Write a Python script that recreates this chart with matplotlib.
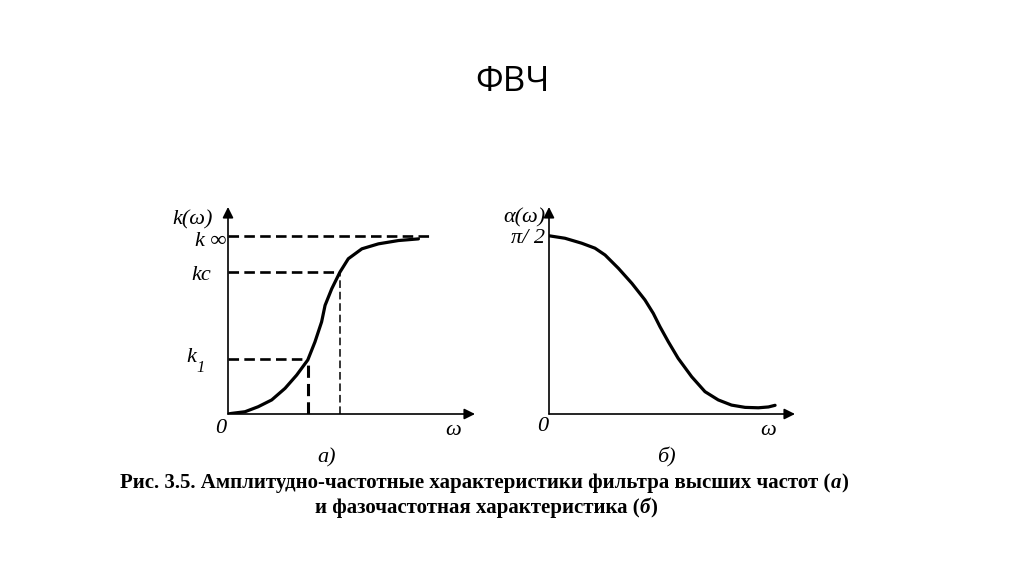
import matplotlib
matplotlib.use("Agg")
import matplotlib.pyplot as plt
from matplotlib.offsetbox import TextArea, HPacker, AnnotationBbox

# амплитудно-частотная характеристика k(w)
w_amp = [0.0, 0.15, 0.69, 1.22, 1.77, 2.31, 2.78, 3.23, 3.52, 3.79, 3.93, 4.20,
         4.53, 4.87, 5.42, 6.09, 6.90, 7.71]
k_amp = [0.0, 0.03, 0.11, 0.35, 0.68, 1.24, 1.88, 2.61, 3.48, 4.45, 5.25, 6.05,
         6.85, 7.50, 7.98, 8.22, 8.38, 8.46]

# фазочастотная характеристика alpha(w)
w_phase = [0.0, 0.65, 1.33, 1.87, 2.28, 2.82, 3.37, 3.90, 4.24, 4.51, 4.85, 5.25,
           5.80, 6.34, 6.88, 7.42, 7.97, 8.51, 8.92, 9.19]
a_phase = [8.61, 8.49, 8.25, 8.01, 7.68, 7.04, 6.31, 5.51, 4.86, 4.22, 3.49, 2.69,
           1.80, 1.08, 0.68, 0.43, 0.32, 0.30, 0.34, 0.42]

# уровни k и частоты для пунктиров
k_inf, k_c, k_1 = 8.61, 6.87, 2.64
w_1, w_c = 3.25, 4.53
w_inf_end = 8.25

title = 'ФВЧ'
caption1 = 'Рис. 3.5. Амплитудно-частотные характеристики фильтра высших частот'
caption2 = 'и фазочастотная характеристика'

serif = ['Liberation Serif', 'DejaVu Serif']
lab = dict(family=serif, style='italic', fontsize=16)

fig = plt.figure(figsize=(10.24, 5.74), dpi=100)
fig.patch.set_facecolor('white')

W, H = 1024.0, 574.0
ax1 = fig.add_axes([228 / W, (H - 414) / H, 247 / W, 207 / H])
ax2 = fig.add_axes([549 / W, (H - 414) / H, 246 / W, 207 / H])

for ax in (ax1, ax2):
    ax.set_xlim(0, 10)
    ax.set_ylim(0, 10)
    ax.axis('off')
    arrow = dict(arrowstyle='-|>', lw=1.2, color='black', mutation_scale=16,
                 shrinkA=0, shrinkB=0)
    ax.annotate('', xy=(10, 0), xytext=(0, 0), arrowprops=arrow, annotation_clip=False)
    ax.annotate('', xy=(0, 10), xytext=(0, 0), arrowprops=arrow, annotation_clip=False)

# а) АЧХ
ax1.plot(w_amp, k_amp, color='black', lw=2.3, solid_capstyle='round',
         solid_joinstyle='round')
ax1.plot([0, w_inf_end], [k_inf, k_inf], color='black', lw=1.9, dashes=(4, 2))
ax1.plot([0, w_c], [k_c, k_c], color='black', lw=1.9, dashes=(4, 2))
ax1.plot([0, w_1], [k_1, k_1], color='black', lw=1.9, dashes=(4, 2))
ax1.plot([w_c, w_c], [0, k_c], color='black', lw=1.1, dashes=(5, 2.5))
ax1.plot([w_1, w_1], [0, k_1], color='black', lw=2.2, dashes=(4, 2))

ax1.text(-0.6, 9.37, 'k(ω)', ha='right', va='center', **lab)
ax1.text(-0.05, 8.32, 'k ∞', ha='right', va='center', **lab)
ax1.text(-0.7, 6.71, 'kc', ha='right', va='center', **lab)
ax1.text(-1.3, 2.75, 'k', ha='right', va='center', **lab)
ax1.text(-1.28, 2.2, '1', ha='left', va='center', family=serif, style='italic',
         fontsize=12)
ax1.text(-0.3, -0.68, '0', ha='center', va='center', **lab)
ax1.text(9.1, -0.8, 'ω', ha='center', va='center', **lab)
ax1.text(4.0, -2.1, 'а)', ha='center', va='center', **lab)

# б) ФЧХ
ax2.plot(w_phase, a_phase, color='black', lw=2.3, solid_capstyle='round',
         solid_joinstyle='round')
ax2.text(-0.15, 9.47, 'α(ω)', ha='right', va='center', **lab)
ax2.text(-0.15, 8.5, 'π/ 2', ha='right', va='center', **lab)
ax2.text(-0.25, -0.62, '0', ha='center', va='center', **lab)
ax2.text(8.9, -0.8, 'ω', ha='center', va='center', **lab)
ax2.text(4.76, -2.1, 'б)', ha='center', va='center', **lab)

fig.text(0.5, 1 - 82 / H, title, ha='center', va='center',
         family=['Open Sans', 'DejaVu Sans'], fontsize=25)


def caption_line(parts, x, y):
    boxes = [TextArea(t, textprops=dict(family=serif, weight='bold', style=s,
                                        fontsize=15)) for t, s in parts]
    pack = HPacker(children=boxes, pad=0, sep=0, align='baseline')
    ab = AnnotationBbox(pack, (x, y), xycoords='figure fraction',
                        frameon=False, box_alignment=(0.5, 0.5))
    fig.add_artist(ab)


caption_line([(caption1 + ' (', 'normal'), ('а', 'italic'), (')', 'normal')],
             484 / W, 1 - 483 / H)
caption_line([(caption2 + ' (', 'normal'), ('б', 'italic'), (')', 'normal')],
             486 / W, 1 - 508 / H)

fig.savefig('out.png', dpi=100)
